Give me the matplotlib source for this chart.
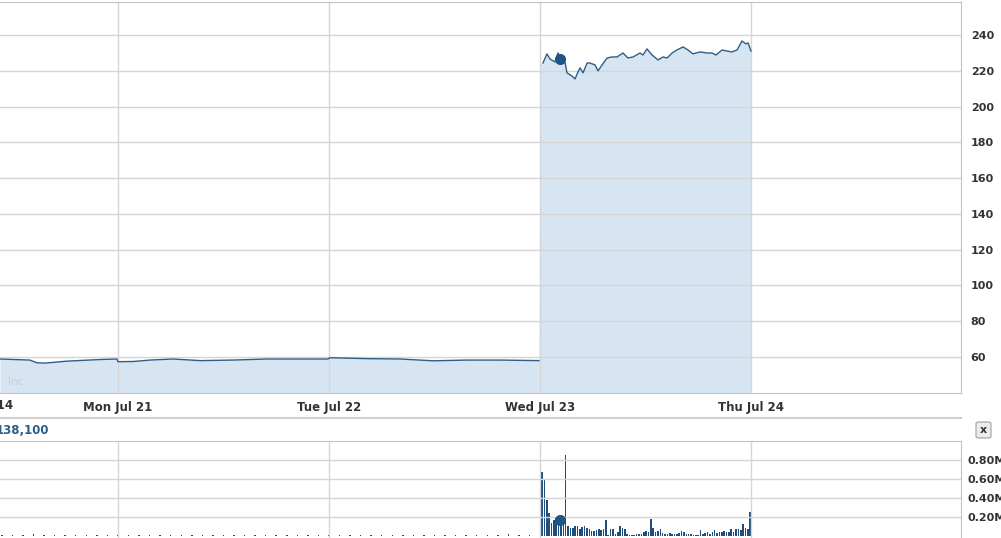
import numpy as np
import matplotlib
matplotlib.use("Agg")
import matplotlib.pyplot as plt
from matplotlib.lines import Line2D
from matplotlib.patches import FancyBboxPatch

# days counted from Mon Jul 21 (0) ... Thu Jul 24 (3)
day_ticks = [0, 1, 2, 3]
day_labels = ["Mon Jul 21", "Tue Jul 22", "Wed Jul 23", "Thu Jul 24"]
price_ticks = [60, 80, 100, 120, 140, 160, 180, 200, 220, 240]
vol_ticks = [0.2, 0.4, 0.6, 0.8]
vol_tick_labels = ["0.20M", "0.40M", "0.60M", "0.80M"]

# before the jump
pre_t = [-0.559, -0.417, -0.384, -0.346, -0.242, -0.085, -0.005,
         0.0, 0.071, 0.152, 0.261, 0.389, 0.545, 0.706, 0.886, 0.995,
         1.005, 1.18, 1.336, 1.493, 1.654, 1.81, 1.995]
pre_p = [58.9, 58.3, 56.8, 56.6, 57.7, 58.6, 58.9,
         57.4, 57.5, 58.3, 58.9, 58.0, 58.3, 58.9, 58.9, 58.9,
         59.6, 59.1, 58.9, 57.9, 58.3, 58.3, 58.0]

# Wed Jul 23 session
wed_t = [2.014, 2.033, 2.047, 2.071, 2.085, 2.104, 2.118, 2.128, 2.152, 2.166,
         2.18, 2.19, 2.204, 2.223, 2.237, 2.261, 2.275, 2.294, 2.318, 2.341,
         2.365, 2.393, 2.417, 2.441, 2.474, 2.488, 2.507, 2.531, 2.559, 2.583,
         2.602, 2.626, 2.649, 2.678, 2.701, 2.725, 2.758, 2.791, 2.815, 2.834,
         2.863, 2.886, 2.91, 2.934, 2.957, 2.976, 2.986, 3.0]
wed_p = [224.3, 229.4, 226.6, 224.9, 229.9, 226.0, 224.9, 218.8, 217.0, 215.4,
         219.3, 221.6, 218.8, 224.3, 224.3, 223.2, 219.9, 223.2, 227.1, 227.7,
         227.7, 229.9, 227.1, 227.7, 229.9, 228.8, 232.2, 228.8, 226.0, 227.7,
         227.1, 229.9, 231.6, 233.3, 231.6, 229.4, 230.5, 229.9, 229.9, 228.8,
         231.6, 231.0, 230.5, 231.6, 236.6, 235.0, 235.5, 231.0]
marker_t, marker_p, marker_v = 2.095, 226.6, 0.16

# volume (millions)
vol_pre = [0.006, 0.008, 0.005, 0.02, 0.007, 0.005, 0.006, 0.004, 0.008, 0.005,
           0.006, 0.004, 0.007, 0.005, 0.009, 0.004, 0.006, 0.005, 0.004, 0.007,
           0.005, 0.006, 0.004, 0.008, 0.005, 0.004, 0.006, 0.005, 0.007, 0.004,
           0.005, 0.006, 0.004, 0.005, 0.007, 0.004, 0.005, 0.006, 0.004, 0.005,
           0.004, 0.006, 0.005, 0.004, 0.005, 0.006, 0.004, 0.005, 0.018, 0.004,
           0.006]
vol_wed = [0.67, 0.60, 0.37, 0.24, 0.13, 0.16, 0.20, 0.18, 0.17, 0.16,
           0.85, 0.10, 0.08, 0.08, 0.10, 0.10, 0.07, 0.09, 0.10, 0.08,
           0.07, 0.05, 0.05, 0.06, 0.07, 0.06, 0.07, 0.16, 0.01, 0.07,
           0.07, 0.02, 0.04, 0.10, 0.08, 0.07, 0.02, 0.01, 0.01, 0.01,
           0.02, 0.02, 0.02, 0.04, 0.05, 0.04, 0.17, 0.08, 0.04, 0.05,
           0.07, 0.03, 0.02, 0.02, 0.03, 0.02, 0.02, 0.02, 0.03, 0.05,
           0.04, 0.02, 0.02, 0.02, 0.01, 0.01, 0.01, 0.06, 0.02, 0.03,
           0.04, 0.02, 0.04, 0.06, 0.03, 0.04, 0.04, 0.05, 0.04, 0.04,
           0.07, 0.04, 0.07, 0.07, 0.06, 0.12, 0.08, 0.07, 0.25]
vol_pre_t = np.arange(len(vol_pre)) * 0.05 - 0.55
vol_wed_t = np.linspace(2.0095, 2.996, len(vol_wed))

line_c = "#2f5d86"
fill_c = "#d6e5f1"
bar_c = "#1f4e7e"
grid_c = "#d6d6d6"
frame_c = "#c4c4c4"
text_c = "#333333"
xlim = (-0.559, 3.995)

fig = plt.figure(figsize=(10.01, 5.38), dpi=100)

# ---- price panel
ax = fig.add_axes([0, 145 / 538, 961 / 1001, 391 / 538])
fill_t = pre_t + [2.0] + wed_t
fill_p = pre_p + [wed_p[0]] + wed_p
ax.fill_between(fill_t, fill_p, 0, color=fill_c, lw=0)
ax.plot(pre_t, pre_p, color=line_c, lw=1.0)
ax.plot(wed_t, wed_p, color=line_c, lw=1.0)
ax.plot(marker_t, marker_p, "o", color="#1f5583", ms=7)
ax.set_xlim(*xlim)
ax.set_ylim(39.9, 258.4)
ax.set_xticks(day_ticks, day_labels)
ax.set_yticks(price_ticks)
ax.yaxis.tick_right()
ax.grid(True, color=grid_c, lw=1)
ax.tick_params(length=0, colors=text_c, labelsize=8.5, pad=6)
ax.tick_params(axis="y", labelsize=8, pad=7)
for lab in ax.get_xticklabels() + ax.get_yticklabels():
    lab.set_fontweight("bold")
ax.spines["left"].set_visible(False)
for s in ["top", "right", "bottom"]:
    ax.spines[s].set_color(frame_c)
fig.text(8 / 1001, 1 - 382 / 538, "Inc.", color="#c5ced8", fontsize=7.5,
         va="center")
fig.text(14 / 1001, 1 - 406 / 538, "Jul 14", ha="right", va="center",
         color=text_c, fontsize=8.5, fontweight="bold")

# separator
fig.add_artist(Line2D([0, 961 / 1001], [1 - 418 / 538] * 2, color="#d0d0d0", lw=1.5))

# volume header
fig.text(49 / 1001, 1 - 430 / 538, "138,100", ha="right", va="center",
         color="#2a5f8a", fontsize=8.5, fontweight="bold")
fig.add_artist(FancyBboxPatch((976 / 1001, 1 - 438 / 538), 15 / 1001, 16 / 538,
                              boxstyle="round,pad=0,rounding_size=0.003",
                              transform=fig.transFigure, fc="#ececec",
                              ec="#a0a0a0", lw=0.8))
fig.text(983.5 / 1001, 1 - 430 / 538, "x", ha="center", va="center",
         color="#333333", fontsize=8, fontweight="bold")

# ---- volume panel
axv = fig.add_axes([0, 0, 961 / 1001, 97 / 538])
axv.bar(vol_pre_t, vol_pre, width=0.007, color=bar_c, lw=0)
axv.bar(vol_wed_t, vol_wed, width=0.0075, color=bar_c, lw=0)
axv.plot(marker_t, marker_v, "o", color="#1f5583", ms=7)
axv.set_xlim(*xlim)
axv.set_ylim(-0.026, 0.995)
axv.set_xticks(day_ticks, [])
axv.set_yticks(vol_ticks, vol_tick_labels)
axv.yaxis.tick_right()
axv.grid(True, color=grid_c, lw=1)
axv.tick_params(length=0, colors=text_c, labelsize=8, pad=5)
for lab in axv.get_yticklabels():
    lab.set_fontweight("bold")
axv.spines["left"].set_visible(False)
axv.spines["bottom"].set_visible(False)
for s in ["top", "right"]:
    axv.spines[s].set_color(frame_c)

fig.savefig("out.png", dpi=100)
